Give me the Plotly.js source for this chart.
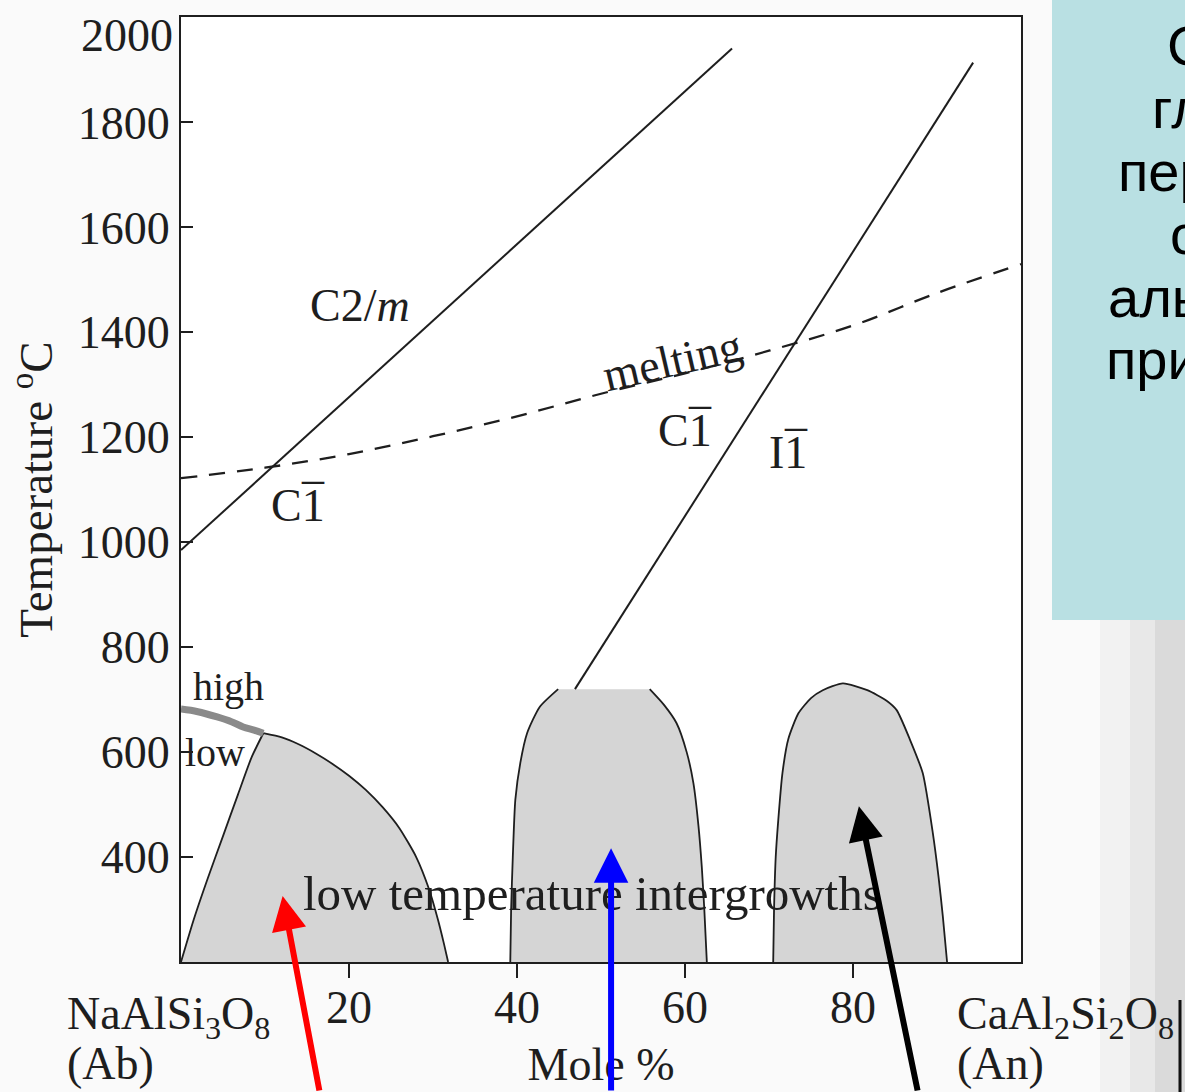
<!DOCTYPE html>
<html><head><meta charset="utf-8">
<script src="https://cdn.plot.ly/plotly-3.0.1.min.js"></script>
<style>html,body{margin:0;padding:0;background:#fafafa;overflow:hidden}</style>
</head><body><div id="chart" style="width:1185px;height:1092px"></div>
<script>
// ---- data (mole % An, temperature °C) ----
const c2mX = [0, 65.6];
const c2mY = [985, 1941];
const i1X = [46.9, 94.3];
const i1Y = [720, 1914];
const meltX = [0, 10, 20, 30, 40, 50, 60, 70, 80, 90, 100];
const meltY = [1122, 1142, 1168, 1202, 1240, 1283, 1322, 1365, 1413, 1475, 1530];
const highLowX = [0, 2, 4.3, 6, 7.4, 8.7, 9.8];
const highLowY = [682, 677, 667, 658, 648, 642, 636];
const abLeftX = [0, 1.5, 3.2, 5.0, 6.8, 8.4, 9.8];
const abLeftY = [200, 280, 360, 440, 520, 590, 636];
const abRightX = [9.8, 12, 14, 16, 18, 20, 22, 24, 26, 28, 29.5, 30.6, 31.3, 31.8];
const abRightY = [636, 628, 615, 598, 578, 555, 528, 495, 455, 400, 340, 280, 235, 200];
const midLeftX = [39.2, 39.3, 39.5, 39.8, 40.4, 41.2, 42.7, 44.9];
const midLeftY = [200, 300, 400, 509, 580, 636, 686, 720];
const midRightX = [55.8, 57.5, 59, 60.2, 61, 61.6, 62, 62.3, 62.6];
const midRightY = [720, 690, 655, 600, 541, 460, 381, 300, 200];
const anRegionX = [70.5, 70.6, 70.8, 71.1, 71.6, 72.3, 73.5, 75, 76.4, 78.8, 81.7, 84, 85.2, 86.8, 88.3, 89.5, 90.2, 90.7, 91.2];
const anRegionY = [200, 300, 400, 470, 560, 625, 674, 703, 718, 731, 718, 698, 680, 623, 560, 446, 360, 286, 200];
const xTickVals = [20, 40, 60, 80];
const yTickVals = [400, 600, 800, 1000, 1200, 1400, 1600, 1800, 2000];
const yTickText = ["400", "600", "800", "1000", "1200", "1400", "1600", "1800", ""];
const boxLines = ["Схема", "главных", "переходов в", "системе", "альбит–анортит", "при охлаждении"];
const boxLineX = [1165, 1150, 1116, 1168, 1106, 1104];

const serif = "Liberation Serif, Times New Roman, serif";
const ink = "#1e1e1e";
const shade = "#d5d5d5";

const traces = [
  {x: abLeftX.concat(abRightX.slice(1)), y: abLeftY.concat(abRightY.slice(1)), mode: "lines", fill: "toself",
   fillcolor: shade, line: {width: 0, shape: "spline", smoothing: 0.5}, hoverinfo: "skip"},
  {x: abLeftX, y: abLeftY, mode: "lines", line: {color: ink, width: 1.8, shape: "spline", smoothing: 0.6}},
  {x: abRightX, y: abRightY, mode: "lines", line: {color: ink, width: 1.8, shape: "spline", smoothing: 0.6}},
  {x: midLeftX.concat(midRightX), y: midLeftY.concat(midRightY), mode: "lines", fill: "toself",
   fillcolor: shade, line: {width: 0}, hoverinfo: "skip"},
  {x: midLeftX, y: midLeftY, mode: "lines", line: {color: ink, width: 1.8, shape: "spline", smoothing: 0.6}},
  {x: midRightX, y: midRightY, mode: "lines", line: {color: ink, width: 1.8, shape: "spline", smoothing: 0.6}},
  {x: anRegionX, y: anRegionY, mode: "lines", fill: "toself", fillcolor: shade,
   line: {color: ink, width: 1.8, shape: "spline", smoothing: 0.6}},
  {x: highLowX, y: highLowY, mode: "lines", line: {color: "#8a8a8a", width: 7, shape: "spline"}},
  {x: c2mX, y: c2mY, mode: "lines", line: {color: ink, width: 2}},
  {x: i1X, y: i1Y, mode: "lines", line: {color: ink, width: 2}},
  {x: meltX, y: meltY, mode: "lines", line: {color: ink, width: 2.3, dash: "16px,12px", shape: "spline"}}
];

const txt = (x, y, text, size, extra) => Object.assign({
  x: x, y: y, xref: "x", yref: "y", text: text, showarrow: false,
  font: {family: serif, size: size, color: ink}
}, extra || {});

// "1" with an overbar (space-group symbol): base text + raised bar
const barred = (x, y, letter, barShift) => [
  txt(x, y, letter + "1", 46),
  txt(x, y, "_", 44, {xshift: barShift, yshift: 42})
];

const arrow = (x, y, ax, ay, color) => ({
  x: x, y: y, xref: "x", yref: "y", ax: ax, ay: ay, text: "", showarrow: true,
  arrowhead: 2, arrowsize: 1.15, arrowwidth: 6, arrowcolor: color, standoff: 0
});

const px = v => (v - 181) / 840, py = v => (962 - v) / 945;
const paperTxt = (xp, yp, text, size, extra) => Object.assign({
  x: px(xp), y: py(yp), xref: "paper", yref: "paper", yanchor: "middle", text: text, showarrow: false,
  font: {family: serif, size: size, color: ink}
}, extra || {});

const annotations = [
  txt(21.3, 1451, "C2/<i>m</i>", 46),
  txt(58.5, 1347, "melting", 46, {textangle: -13}),
  ...barred(13.9, 1070, "C", 15),
  ...barred(60, 1213, "C", 15),
  ...barred(72.3, 1171, "I", 8),
  txt(5.6, 726, "high", 40),
  txt(0.2, 600, "low", 40, {xanchor: "left"}),
  txt(49, 331, "low temperature intergrowths", 49),
  paperTxt(175, 35, "2000", 46, {xanchor: "right"}),
  paperTxt(65, 1017, "NaAlSi<sub>3</sub>O<sub>8</sub>", 46, {xanchor: "left"}),
  paperTxt(65, 1063, "(Ab)", 46, {xanchor: "left"}),
  paperTxt(955, 1017, "CaAl<sub>2</sub>Si<sub>2</sub>O<sub>8</sub>", 46, {xanchor: "left"}),
  paperTxt(955, 1063, "(An)", 46, {xanchor: "left"}),
  arrow(12.1, 326, 37, 200, "#ff0000"),
  arrow(51.2, 417, 0, 250, "#0000ff"),
  arrow(80.7, 497, 59, 290, "#000000")
];

boxLines.forEach((t, i) => {
  annotations.push({x: px(boxLineX[i]), y: py(45 + i * 63), xref: "paper", yref: "paper",
    xanchor: "left", yanchor: "middle", text: t, showarrow: false,
    font: {family: "Liberation Sans, Arial, sans-serif", size: 56, color: "#000"}});
});

const shapes = [
  {type: "rect", xref: "paper", yref: "paper", x0: px(1100), x1: px(1190), y0: py(1095), y1: py(620), fillcolor: "rgba(0,0,0,0.03)", line: {width: 0}, layer: "below"},
  {type: "rect", xref: "paper", yref: "paper", x0: px(1130), x1: px(1190), y0: py(1095), y1: py(620), fillcolor: "rgba(0,0,0,0.04)", line: {width: 0}, layer: "below"},
  {type: "rect", xref: "paper", yref: "paper", x0: px(1155), x1: px(1190), y0: py(1095), y1: py(620), fillcolor: "rgba(0,0,0,0.06)", line: {width: 0}, layer: "below"},
  {type: "rect", xref: "paper", yref: "paper", x0: px(1052), x1: px(1190), y0: py(620), y1: py(-5), fillcolor: "#b9e0e3", line: {width: 0}},
  {type: "line", xref: "paper", yref: "paper", x0: px(1180), x1: px(1180), y0: py(1000), y1: py(1095), line: {color: "#111", width: 3}}
];

const layout = {
  width: 1185, height: 1092,
  margin: {l: 181, r: 164, t: 17, b: 130, pad: 0},
  paper_bgcolor: "#fafafa", plot_bgcolor: "#ffffff",
  showlegend: false,
  xaxis: {range: [0, 100], showgrid: false, zeroline: false, showline: true, mirror: true,
    linecolor: ink, linewidth: 2, ticks: "outside", ticklen: 14, tickwidth: 2, tickcolor: ink,
    tickvals: xTickVals, tickfont: {family: serif, size: 46, color: ink}, ticklabelstandoff: -10,
    title: {text: "Mole %", font: {family: serif, size: 46, color: ink}, standoff: 16}},
  yaxis: {range: [200, 2001], showgrid: false, zeroline: false, showline: true, mirror: true,
    linecolor: ink, linewidth: 2, ticks: "inside", ticklen: 12, tickwidth: 2, tickcolor: ink,
    tickvals: yTickVals, ticktext: yTickText, tickfont: {family: serif, size: 46, color: ink},
    title: {text: "Temperature <sup>o</sup>C", font: {family: serif, size: 47, color: ink}, standoff: 10}},
  annotations: annotations,
  shapes: shapes
};

Plotly.newPlot("chart", traces, layout, {staticPlot: true, displayModeBar: false});
</script></body></html>
